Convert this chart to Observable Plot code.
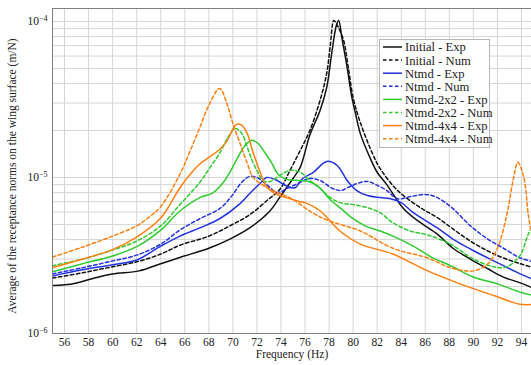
<!DOCTYPE html>
<html>
<head>
<meta charset="utf-8">
<script src="https://cdn.jsdelivr.net/npm/d3@7"></script>
<script src="https://cdn.jsdelivr.net/npm/@observablehq/plot@0.6"></script>
<style>
  html, body { margin: 0; padding: 0; background: #fff; overflow: hidden; }
  #chart { position: relative; width: 531px; height: 365px; }
</style>
</head>
<body>
<div id="chart"></div>
<script>
// Receptance norm averaged over the wing surface, [frequency (Hz), value (m/N)]
const initialExp = [
  [55, 2.03e-6], [56, 2.05e-6], [57, 2.11e-6], [58.5, 2.27e-6], [60, 2.41e-6], [62.2, 2.52e-6],
  [64, 2.8e-6], [65.7, 3.09e-6], [68, 3.52e-6], [69.75, 4.03e-6], [71.4, 4.75e-6], [73, 6.0e-6],
  [74, 7.66e-6], [75, 9.85e-6], [75.6, 1.16e-5], [76.4, 1.87e-5], [77.25, 2.69e-5], [77.8, 3.77e-5],
  [78.25, 6.5e-5], [78.6, 9.4e-5], [78.8, 1.015e-4], [79.06, 7.9e-5], [79.5, 5.07e-5], [79.9, 3.25e-5],
  [80.2, 2.57e-5], [80.6, 1.91e-5], [81.4, 1.34e-5], [82, 1.08e-5], [82.8, 9.0e-6], [84.2, 6.31e-6],
  [85.6, 5.13e-6], [87, 4.34e-6], [88.3, 3.52e-6], [89.75, 3.0e-6], [91.2, 2.6e-6], [92.5, 2.3e-6],
  [93.9, 2.11e-6], [95, 1.95e-6]
];
const initialNum = [
  [55, 2.27e-6], [57.5, 2.45e-6], [60, 2.68e-6], [62, 2.88e-6], [64, 3.23e-6], [65.6, 3.68e-6],
  [68, 4.21e-6], [69.75, 4.9e-6], [71.4, 5.77e-6], [73, 7.3e-6], [73.9, 8.37e-6], [74.75, 1.11e-5],
  [75.6, 1.49e-5], [76.4, 2.0e-5], [77.25, 3.12e-5], [77.8, 4.64e-5], [78.1, 7.0e-5], [78.4, 1.015e-4],
  [78.7, 9.4e-5], [79.2, 7.6e-5], [79.6, 5.07e-5], [80, 3.25e-5], [80.6, 2.25e-5], [81.6, 1.43e-5],
  [82.25, 1.14e-5], [83.7, 8.25e-6], [85.6, 6.4e-6], [87, 5.53e-6], [88.3, 4.68e-6], [89.75, 3.91e-6],
  [91.2, 3.38e-6], [92.5, 3.05e-6], [93.9, 2.8e-6], [95, 2.64e-6]
];
const ntmdExp = [
  [55, 2.34e-6], [57.5, 2.56e-6], [60, 2.76e-6], [62, 2.96e-6], [64, 3.63e-6], [65.6, 4.21e-6],
  [67.25, 4.75e-6], [68.9, 5.44e-6], [70.6, 6.8e-6], [71.4, 7.89e-6], [72.25, 9.15e-6], [72.8, 1.0e-5],
  [73.5, 9.7e-6], [74.75, 8.63e-6], [75.2, 8.63e-6], [75.8, 9.85e-6], [76.7, 1.08e-5], [77.5, 1.23e-5],
  [77.9, 1.27e-5], [78.7, 1.19e-5], [79.5, 9.57e-6], [80.3, 8.25e-6], [81.2, 7.66e-6], [82.25, 7.43e-6],
  [83.1, 7.3e-6], [84, 6.9e-6], [85, 5.95e-6], [87, 4.75e-6], [88.3, 4.03e-6], [89.75, 3.48e-6],
  [91.2, 3.05e-6], [92.5, 2.72e-6], [93.9, 2.41e-6], [95, 2.22e-6]
];
const ntmdNum = [
  [55, 2.41e-6], [57.5, 2.64e-6], [60, 2.92e-6], [62, 3.18e-6], [64, 3.74e-6], [65.6, 4.61e-6],
  [67.25, 5.44e-6], [68.9, 6.31e-6], [69.8, 7.43e-6], [70.8, 9.43e-6], [71.4, 1.015e-5], [72, 1.0e-5],
  [72.8, 9.0e-6], [73.7, 8.0e-6], [74.5, 8.5e-6], [75.6, 9.3e-6], [76.4, 9.85e-6], [77.25, 9.57e-6],
  [78.3, 8.5e-6], [79, 8.25e-6], [79.75, 8.76e-6], [80.6, 9.3e-6], [81.2, 9.43e-6], [81.9, 9.0e-6],
  [82.8, 8.25e-6], [83.7, 7.3e-6], [84.8, 7.55e-6], [86, 7.78e-6], [87, 7.43e-6], [88.3, 6.31e-6],
  [89.75, 4.9e-6], [91.2, 4.03e-6], [92.5, 3.52e-6], [93.9, 3.05e-6], [95, 2.88e-6]
];
const ntmd2x2Exp = [
  [55, 2.49e-6], [57.5, 2.8e-6], [60, 3.14e-6], [62, 3.6e-6], [64, 4.6e-6], [65.6, 6.1e-6],
  [67.25, 7.43e-6], [68.3, 7.95e-6], [69.2, 9.3e-6], [69.75, 1.08e-5], [70.4, 1.34e-5], [71, 1.6e-5],
  [71.6, 1.73e-5], [72.1, 1.65e-5], [72.7, 1.43e-5], [73.25, 1.23e-5], [73.75, 1.05e-5], [74.5, 9.7e-6],
  [75.5, 9.57e-6], [76.3, 9.43e-6], [77.1, 8.76e-6], [78.1, 7.2e-6], [79, 6.31e-6], [80, 5.44e-6],
  [81, 4.9e-6], [82.25, 4.54e-6], [83.5, 4.15e-6], [85, 3.63e-6], [86.5, 3.09e-6], [88.1, 2.72e-6],
  [90, 2.3e-6], [92, 2.08e-6], [94, 1.83e-6], [95, 1.75e-6]
];
const ntmd2x2Num = [
  [55, 2.72e-6], [57.5, 3.0e-6], [60, 3.43e-6], [62, 3.91e-6], [64, 4.9e-6], [65.6, 6.7e-6],
  [67.25, 9.3e-6], [68.1, 1.16e-5], [68.9, 1.43e-5], [69.6, 1.81e-5], [70.2, 2.06e-5], [70.75, 1.91e-5],
  [71.2, 1.56e-5], [71.6, 1.285e-5], [72, 1.11e-5], [72.5, 9.57e-6], [73.1, 9.43e-6], [73.9, 1.03e-5],
  [74.75, 1.11e-5], [75.6, 1.08e-5], [76.4, 9.57e-6], [77.25, 8.5e-6], [78.1, 7.43e-6], [78.9, 6.9e-6],
  [80, 6.7e-6], [81.2, 6.4e-6], [82.25, 5.95e-6], [83.3, 5.13e-6], [84.75, 4.54e-6], [86.2, 4.28e-6],
  [88.1, 3.74e-6], [90, 3.0e-6], [91.7, 2.68e-6], [92.8, 2.68e-6], [93.9, 3.18e-6], [94.5, 4.21e-6],
  [95, 5.13e-6]
];
const ntmd4x4Exp = [
  [55, 2.64e-6], [57.5, 3.0e-6], [60, 3.45e-6], [62, 4.15e-6], [64, 5.5e-6], [65.6, 8.6e-6],
  [66.5, 1.06e-5], [67.25, 1.22e-5], [68.1, 1.36e-5], [68.9, 1.51e-5], [69.5, 1.71e-5], [69.9, 1.97e-5],
  [70.3, 2.19e-5], [70.75, 2.16e-5], [71.2, 1.91e-5], [71.6, 1.51e-5], [72, 1.23e-5], [72.4, 1.015e-5],
  [72.8, 8.76e-6], [73.5, 7.89e-6], [74.4, 7.43e-6], [75.6, 7.0e-6], [76.2, 6.8e-6], [77.25, 6.12e-6],
  [78.9, 4.54e-6], [80.6, 3.74e-6], [83.3, 3.23e-6], [86.2, 2.52e-6], [88.9, 2.08e-6], [91.7, 1.75e-6],
  [93.9, 1.54e-6], [95, 1.54e-6]
];
const ntmd4x4Num = [
  [55, 3.09e-6], [57.5, 3.58e-6], [60, 4.21e-6], [62, 4.9e-6], [63, 5.55e-6], [64, 6.5e-6], [65.6, 1.05e-5],
  [66.4, 1.45e-5], [67.25, 2.09e-5], [68, 2.9e-5], [68.9, 3.72e-5], [69.5, 2.98e-5], [70, 2.22e-5],
  [70.6, 1.65e-5], [71.2, 1.23e-5], [71.7, 1.0e-5], [72.8, 8.63e-6], [73.9, 7.89e-6], [74.9, 7.3e-6],
  [76.6, 5.95e-6], [78, 5.28e-6], [80.6, 4.54e-6], [83.3, 3.52e-6], [86.2, 3.05e-6], [88.1, 2.64e-6],
  [90, 2.52e-6], [91.2, 2.8e-6], [92, 3.52e-6], [92.8, 5.86e-6], [93.3, 9.57e-6], [93.7, 1.25e-5],
  [94.2, 1.0e-5], [94.6, 5.52e-6], [95, 3.91e-6]
];

const seriesNames = [
  "Initial - Exp", "Initial - Num", "Ntmd - Exp", "Ntmd - Num",
  "Ntmd-2x2 - Exp", "Ntmd-2x2 - Num", "Ntmd-4x4 - Exp", "Ntmd-4x4 - Num"
];
const seriesData = [initialExp, initialNum, ntmdExp, ntmdNum, ntmd2x2Exp, ntmd2x2Num, ntmd4x4Exp, ntmd4x4Num];
const seriesColors = ["#111111", "#111111", "#2233e0", "#2233e0", "#2ecc2e", "#2ecc2e", "#ff7f0e", "#ff7f0e"];
const seriesDashed = [false, true, false, true, false, true, false, true];

const xTicks = d3.range(56, 95, 2);
const yTicks = [1e-6, 1e-5, 1e-4];
const yGrid = [2e-6, 3e-6, 4e-6, 5e-6, 6e-6, 7e-6, 8e-6, 9e-6, 1e-5,
               2e-5, 3e-5, 4e-5, 5e-5, 6e-5, 7e-5, 8e-5, 9e-5, 1e-4];

const fontFamily = "'Liberation Serif', 'DejaVu Serif', serif";
const DASH = "3.5,2.5";

const lineMarks = seriesData.map((rows, i) =>
  Plot.line(rows, {
    x: d => d[0], y: d => d[1],
    stroke: seriesColors[i], strokeWidth: 1.5,
    strokeDasharray: seriesDashed[i] ? DASH : null,
    curve: "catmull-rom", clip: true
  })
);

const svg = Plot.plot({
  width: 531, height: 365,
  marginLeft: 52, marginRight: -2, marginTop: 8, marginBottom: 32,
  style: { fontFamily, fontSize: "11.5px", background: "white", color: "#222" },
  x: { domain: [55, 95], ticks: xTicks, tickFormat: d => String(d), tickSize: 0, tickPadding: 4, label: null },
  y: { type: "log", domain: [1e-6, 1.211e-4], ticks: yTicks,
       tickFormat: d => "10^" + Math.round(Math.log10(d)), tickSize: 0, tickPadding: 5, label: null },
  marks: [
    Plot.ruleX(xTicks, { stroke: "#d6d6d6", strokeWidth: 1 }),
    Plot.ruleY(yGrid, { stroke: "#d6d6d6", strokeWidth: 1 }),
    ...lineMarks,
    Plot.frame({ stroke: "#808080", strokeWidth: 1 })
  ]
});

// Turn "10^-n" tick labels into a power of ten with a raised exponent
d3.select(svg).selectAll("text").each(function () {
  const m = /^10\^(-?\d+)$/.exec(this.textContent);
  if (!m) return;
  const t = d3.select(this);
  t.text("10");
  t.append("tspan").attr("dy", "-0.5em").attr("font-size", "0.7em").text(m[1].replace("-", "\u2212"));
});

const g = d3.select(svg).append("g").attr("font-family", fontFamily).attr("fill", "#222");

// Axis titles
g.append("text")
  .attr("x", 292).attr("y", 358)
  .attr("text-anchor", "middle").attr("font-size", "11.5px")
  .text("Frequency (Hz)");
g.append("text")
  .attr("transform", "translate(16,176) rotate(-90)")
  .attr("text-anchor", "middle").attr("font-size", "11.5px")
  .text("Average of the receptance norms on the wing surface (m/N)");

// Legend
const lg = g.append("g").attr("text-anchor", "start");
lg.append("rect").attr("x", 379.5).attr("y", 39.5).attr("width", 110).attr("height", 108)
  .attr("fill", "white").attr("stroke", "#b8b8b8");
seriesNames.forEach((name, i) => {
  const y = 47 + i * 13.1;
  lg.append("line").attr("x1", 383).attr("x2", 402).attr("y1", y).attr("y2", y)
    .attr("stroke", seriesColors[i]).attr("stroke-width", 1.5)
    .attr("stroke-dasharray", seriesDashed[i] ? DASH : null);
  lg.append("text").attr("x", 405).attr("y", y).attr("dy", "0.35em")
    .attr("text-anchor", "start").attr("font-size", "12.6px").text(name);
});

document.getElementById("chart").appendChild(svg);
</script>
</body>
</html>
